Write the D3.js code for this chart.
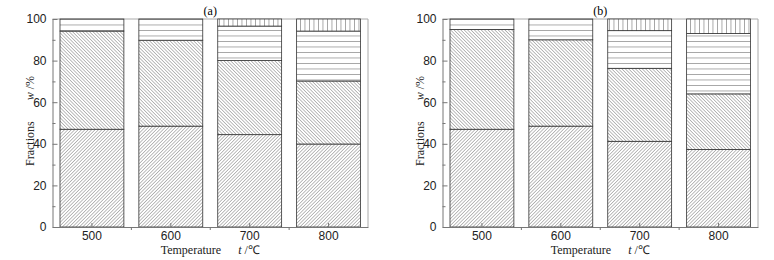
<!DOCTYPE html>
<html>
<head>
<meta charset="utf-8">
<script src="https://cdn.jsdelivr.net/npm/d3@7"></script>
<style>
  body { margin: 0; background: #fff; }
  svg { font-family: "Liberation Serif", "Times New Roman", serif; }
  .axis path, .axis line { stroke: #777; }
  .axis text { font-size: 12px; fill: #222; }
</style>
</head>
<body>
<div id="chart"></div>
<script>
// temperature groups
var temps = ["500", "600", "700", "800"];
var yTicks = [0, 20, 40, 60, 80, 100];
var yMinor = [10, 30, 50, 70, 90];

// fraction of each layer (bottom to top), w/%
var a_layer1 = [47.0, 48.5, 44.4, 39.9];
var a_layer2 = [47.2, 41.3, 35.6, 30.3];
var a_layer3 = [5.8, 10.2, 16.6, 24.0];
var a_layer4 = [0, 0, 3.4, 5.8];

var b_layer1 = [47.0, 48.5, 41.2, 37.3];
var b_layer2 = [48.0, 41.5, 35.1, 26.7];
var b_layer3 = [5.0, 10.0, 18.1, 29.0];
var b_layer4 = [0, 0, 5.6, 7.0];

var layerKeys = ["l1", "l2", "l3", "l4"];
var fills = { l1: "url(#hatchUp)", l2: "url(#hatchDown)", l3: "url(#hlines)", l4: "url(#vlines)" };

function rows(l1, l2, l3, l4) {
    return temps.map(function (t, i) {
        return { temp: t, l1: l1[i], l2: l2[i], l3: l3[i], l4: l4[i] };
    });
}

var panels = [
    { title: "(a)", data: rows(a_layer1, a_layer2, a_layer3, a_layer4), dx: 0 },
    { title: "(b)", data: rows(b_layer1, b_layer2, b_layer3, b_layer4), dx: 390 }
];

var W = 774, H = 260;
var margin = { top: 19, left: 52.5 },
    width = 315.5,
    height = 208;

var svg = d3.select("#chart").append("svg")
    .attr("width", W)
    .attr("height", H);

// hatch patterns
var defs = svg.append("defs");
function diag(id, angle, gap, sw) {
    var p = defs.append("pattern")
        .attr("id", id)
        .attr("patternUnits", "userSpaceOnUse")
        .attr("width", gap).attr("height", gap)
        .attr("patternTransform", "rotate(" + angle + ")");
    p.append("rect").attr("width", gap).attr("height", gap).attr("fill", "#fff");
    p.append("line").attr("x1", 0).attr("y1", 0).attr("x2", 0).attr("y2", gap)
        .attr("stroke", "#444").attr("stroke-width", sw);
}
diag("hatchUp", 45, 2.4, 0.7);
diag("hatchDown", -45, 2.4, 0.7);
diag("hlines", 90, 5.5, 0.9);
diag("vlines", 0, 4.5, 0.9);

var stack = d3.stack().keys(layerKeys);

var x = d3.scaleBand()
    .domain(temps)
    .range([0, width])
    .paddingInner(0.19)
    .paddingOuter(0.095);

var y = d3.scaleLinear()
    .domain([0, 100])
    .range([height, 0]);

panels.forEach(function (panel) {
    var g = svg.append("g")
        .attr("transform", "translate(" + (margin.left + panel.dx) + "," + margin.top + ")");

    // top and right frame
    g.append("path")
        .attr("d", "M0,0H" + width + "V" + height)
        .attr("fill", "none")
        .attr("stroke", "#aaa");

    var series = stack(panel.data);

    g.selectAll(".layer")
        .data(series)
        .enter().append("g")
        .attr("class", "layer")
        .selectAll("rect")
        .data(function (s) { return s.map(function (d) { d.key = s.key; return d; }); })
        .enter().append("rect")
        .filter(function (d) { return d[1] - d[0] > 0; })
        .attr("x", function (d) { return x(d.data.temp); })
        .attr("y", function (d) { return y(d[1]); })
        .attr("width", x.bandwidth())
        .attr("height", function (d) { return y(d[0]) - y(d[1]); })
        .attr("fill", function (d) { return fills[d.key]; })
        .attr("stroke", "#333")
        .attr("stroke-width", 0.8);

    // y axis
    g.append("g")
        .attr("class", "axis")
        .call(d3.axisLeft(y).tickValues(yTicks).tickSizeInner(-5).tickSizeOuter(0).tickPadding(6));
    g.append("g")
        .attr("class", "axis")
        .call(d3.axisLeft(y).tickValues(yMinor).tickSizeInner(-3).tickSizeOuter(0).tickFormat(""))
        .select(".domain").remove();

    // x axis
    g.append("g")
        .attr("class", "axis")
        .attr("transform", "translate(0," + height + ")")
        .call(d3.axisBottom(x).tickSizeInner(-4).tickSizeOuter(0).tickPadding(4));

    // small ticks between the bars
    g.append("g")
        .selectAll("line")
        .data(temps.slice(1))
        .enter().append("line")
        .attr("x1", function (d) { return x(d) - x.step() * x.paddingInner() / 2; })
        .attr("x2", function (d) { return x(d) - x.step() * x.paddingInner() / 2; })
        .attr("y1", height)
        .attr("y2", height + 3)
        .attr("stroke", "#777");

    // title
    g.append("text")
        .attr("x", width / 2)
        .attr("y", -4)
        .attr("text-anchor", "middle")
        .attr("font-size", 12)
        .text(panel.title);

    // x label
    var xl = g.append("text")
        .attr("x", width / 2)
        .attr("y", height + 27)
        .attr("text-anchor", "middle")
        .attr("font-size", 12)
        .attr("fill", "#222");
    xl.append("tspan").text("Temperature");
    xl.append("tspan").attr("dx", 17).attr("font-style", "italic").text("t");
    xl.append("tspan").text(" /℃");

    // y label
    var yl = g.append("text")
        .attr("transform", "translate(-19," + (height / 2 - 2) + ") rotate(-90)")
        .attr("text-anchor", "middle")
        .attr("font-size", 12)
        .attr("fill", "#222");
    yl.append("tspan").text("Fractions");
    yl.append("tspan").attr("dx", 21).attr("font-style", "italic").text("w");
    yl.append("tspan").text(" /%");
});
</script>
</body>
</html>
